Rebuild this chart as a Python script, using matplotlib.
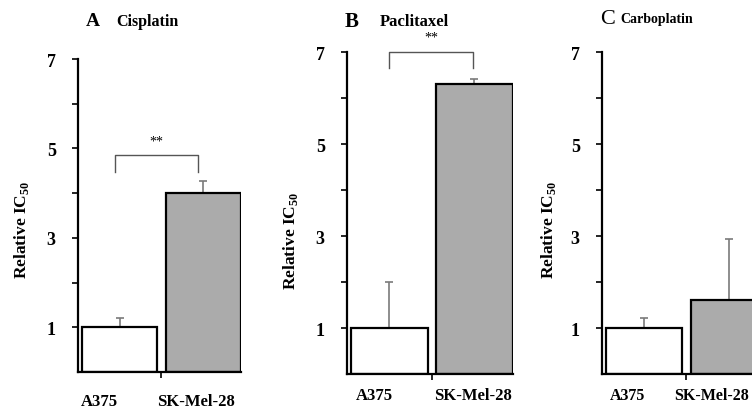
import numpy as np
import matplotlib.pyplot as plt

plt.rcParams['font.family'] = ['Liberation Serif', 'DejaVu Serif']
plt.rcParams['mathtext.fontset'] = 'custom'
plt.rcParams['mathtext.rm'] = 'Liberation Serif'
plt.rcParams['mathtext.bf'] = 'Liberation Serif:bold'

# --- данные ---
cell_lines = ['A375', 'SK-Mel-28']
drugs = ['Cisplatin', 'Paclitaxel', 'Carboplatin']
letters = ['A', 'B', 'C']
cisplatin = [1.0, 4.0]
cisplatin_err = [0.2, 0.27]
paclitaxel = [1.0, 6.3]
paclitaxel_err = [1.0, 0.12]
carboplatin = [1.0, 1.6]
carboplatin_err = [0.22, 1.33]
signif = ['**', '**', None]
bracket_y = [4.85, 7.0, None]
bracket_low = [4.48, 6.65, None]

values = [cisplatin, paclitaxel, carboplatin]
errors = [cisplatin_err, paclitaxel_err, carboplatin_err]

fig = plt.figure(figsize=(7.52, 4.14), dpi=100)
W, H = 752, 414

# позиции осей в пикселях: left, right, top(y=7), bottom(y=0)
boxes = [(78, 241, 60, 373), (347, 513, 53, 375), (602, 767, 53, 375)]
ylabel_xy = [(22, 230), (290, 241), (548, 230)]
# сдвиги подписей клеточных линий (в единицах оси) и вниз (в пикселях)
a375_dx = [-0.24, -0.18, -0.2]
sk_dx = [-0.09, -0.02, -0.2]
label_dy = [29, 21, 21]
label_fs = [12, 12, 11.5]
bracket_x = [(-0.06, 0.94), (0.0, 0.98), None]

for k in range(3):
    l, r, t, b = boxes[k]
    ax = fig.add_axes([l / W, (H - b) / H, (r - l) / W, (b - t) / H])
    x = np.arange(2)
    ax.bar(x, values[k], width=0.9, color=['white', '#ababab'],
           edgecolor='black', linewidth=1.6, zorder=2)
    ax.errorbar(x, values[k], yerr=[[0, 0], errors[k]], fmt='none',
                ecolor='#7a7a7a', elinewidth=1.2, capsize=3, capthick=1.2, zorder=1)
    ax.set_xlim(-0.5, 1.455)
    ax.set_ylim(0, 7)
    ax.spines['top'].set_visible(False)
    ax.spines['right'].set_visible(False)
    ax.spines['left'].set_linewidth(1.6)
    ax.spines['bottom'].set_linewidth(1.6)
    ax.set_yticks([1, 3, 5, 7])
    ax.set_yticks([2, 4, 6], minor=True)
    ax.set_yticklabels(['1', '3', '5', '7'], fontsize=13, fontweight='bold')
    ax.tick_params(axis='y', which='both', direction='out', length=4, width=1.2, pad=12)
    ax.set_xticks([0.5])
    ax.set_xticklabels([''])
    ax.tick_params(axis='x', direction='out', length=4, width=1.2)
    dxs = [a375_dx[k], sk_dx[k]]
    for i, name in enumerate(cell_lines):
        ax.annotate(name, xy=(x[i] + dxs[i], 0), xycoords=('data', 'axes fraction'),
                    xytext=(0, -label_dy[k] * 0.72), textcoords='offset points',
                    ha='center', va='center', fontsize=label_fs[k], fontweight='bold',
                    annotation_clip=False)
    ax.patch.set_alpha(0)

    if signif[k]:
        by, bl = bracket_y[k], bracket_low[k]
        x0, x1 = bracket_x[k]
        ax.plot([x0, x0, x1, x1], [bl, by, by, bl], color='#555555',
                lw=1.0, clip_on=False)
        ax.text((x0 + x1) / 2, by + 0.18, signif[k], ha='center', va='bottom',
                fontsize=10, clip_on=False)

    px, py = ylabel_xy[k]
    fig.text(px / W, 1 - py / H, r'Relative IC$_{\mathbf{50}}$',
             rotation=90, ha='center', va='center', fontsize=12.5, fontweight='bold')

# заголовки панелей
fig.text(86 / W, 1 - 22 / H, 'A', fontsize=14, fontweight='bold', va='center')
fig.text(116 / W, 1 - 22 / H, 'Cisplatin', fontsize=11.5, fontweight='bold', va='center')
fig.text(345 / W, 1 - 22 / H, 'B', fontsize=15, fontweight='bold', va='center')
fig.text(380 / W, 1 - 22 / H, 'Paclitaxel', fontsize=12, fontweight='bold', va='center')
fig.text(600 / W, 1 - 20 / H, 'C', fontsize=16, va='center')
fig.text(620 / W, 1 - 20 / H, 'Carboplatin', fontsize=10, fontweight='bold', va='center')

fig.savefig('out.png', dpi=100)
